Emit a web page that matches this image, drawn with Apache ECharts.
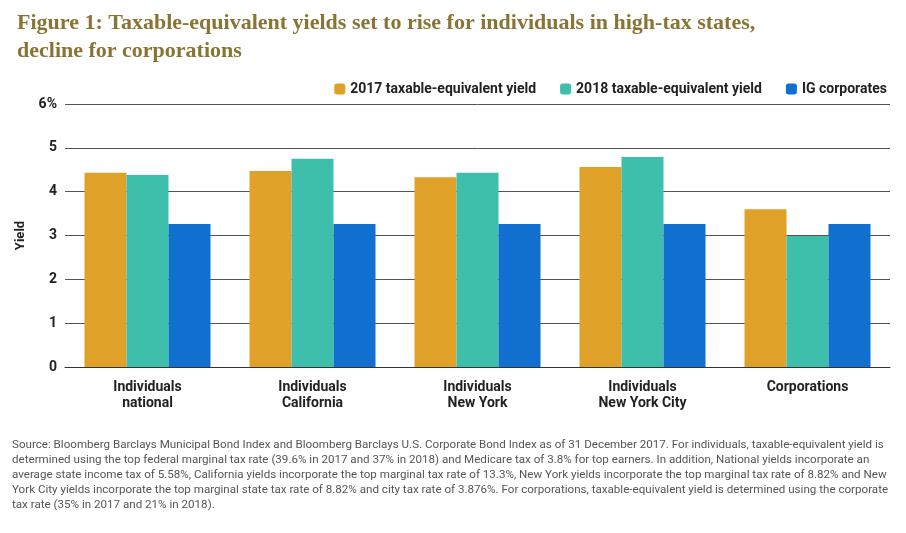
<!DOCTYPE html>
<html>
<head>
<meta charset="UTF-8">
<script src="https://cdn.jsdelivr.net/npm/echarts@6/dist/echarts.min.js"></script>
<style>
  * { margin: 0; padding: 0; }
  body { background: #fff; }
  #chart { width: 906px; height: 533px; }
</style>
</head>
<body>
<div id="chart"></div>
<script>
const categories = ['Individuals\nnational', 'Individuals\nCalifornia', 'Individuals\nNew York', 'Individuals\nNew York City', 'Corporations'];
const yield2017 = [4.43, 4.47, 4.33, 4.56, 3.60];
const yield2018 = [4.38, 4.75, 4.43, 4.79, 2.99];
const igCorporates = [3.26, 3.26, 3.26, 3.26, 3.26];
const yTicks = ['0', '1', '2', '3', '4', '5', '6%'];

const sourceLines = [
  'Source: Bloomberg Barclays Municipal Bond Index and Bloomberg Barclays U.S. Corporate Bond Index as of 31 December 2017. For individuals, taxable-equivalent yield is',
  'determined using the top federal marginal tax rate (39.6% in 2017 and 37% in 2018) and Medicare tax of 3.8% for top earners. In addition, National yields incorporate an',
  'average state income tax of 5.58%, California yields incorporate the top marginal tax rate of 13.3%, New York yields incorporate the top marginal tax rate of 8.82% and New',
  'York City yields incorporate the top marginal state tax rate of 8.82% and city tax rate of 3.876%. For corporations, taxable-equivalent yield is determined using the corporate',
  'tax rate (35% in 2017 and 21% in 2018).'
];

const chart = echarts.init(document.getElementById('chart'));
chart.setOption({
  animation: false,
  title: {
    text: 'Figure 1: Taxable-equivalent yields set to rise for individuals in high-tax states,\ndecline for corporations',
    left: 12, top: 4,
    textStyle: { fontFamily: 'Liberation Serif', fontSize: 22, fontWeight: 'bold', color: '#8a7433', lineHeight: 28 }
  },
  legend: {
    right: 14, top: 77, itemWidth: 11, itemHeight: 11, itemGap: 24,
    textStyle: { fontFamily: 'Roboto', fontSize: 14, fontWeight: 'bold', color: '#222' }
  },
  grid: { left: 65, right: 16, top: 104, bottom: 166 },
  xAxis: {
    type: 'category', data: categories,
    axisLine: { lineStyle: { color: '#333' } }, axisTick: { show: false },
    axisLabel: { fontFamily: 'Roboto', fontSize: 14, fontWeight: 'bold', color: '#222', margin: 12, lineHeight: 16 }
  },
  yAxis: {
    type: 'value', min: 0, max: 6, interval: 1,
    name: 'Yield', nameLocation: 'middle', nameGap: 38, nameRotate: 90,
    nameTextStyle: { fontFamily: 'Roboto', fontSize: 13, fontWeight: 'bold', color: '#222' },
    axisLabel: { fontFamily: 'Roboto', fontSize: 14, fontWeight: 'bold', color: '#222', formatter: (v) => yTicks[v] },
    splitLine: { lineStyle: { color: '#555' } }
  },
  series: [
    { name: '2017 taxable-equivalent yield', type: 'bar', data: yield2017, itemStyle: { color: '#e0a128' }, barWidth: 42, barGap: '0%' },
    { name: '2018 taxable-equivalent yield', type: 'bar', data: yield2018, itemStyle: { color: '#3ebfab' }, barWidth: 42 },
    { name: 'IG corporates', type: 'bar', data: igCorporates, itemStyle: { color: '#1170cf' }, barWidth: 42 }
  ],
  graphic: [{
    type: 'text', left: 12, top: 438,
    style: { text: sourceLines.join('\n'), font: '11.6px Roboto', fill: '#555', lineHeight: 15 }
  }]
});
</script>
</body>
</html>
